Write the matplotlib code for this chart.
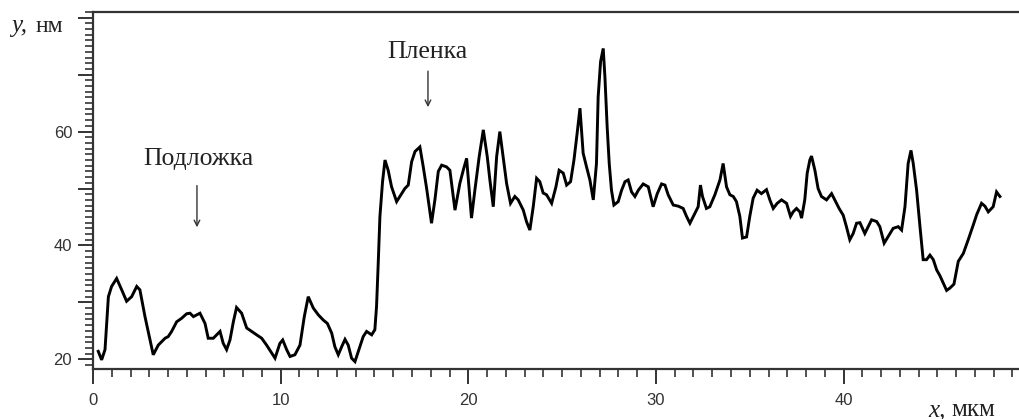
import matplotlib.pyplot as plt
from matplotlib.ticker import MultipleLocator

# профиль поверхности: x, мкм / y, нм
x = [0.28, 0.46, 0.64, 0.82, 0.99, 1.26, 1.53, 1.79, 2.06, 2.33, 2.50, 2.77, 3.04, 3.21, 3.48,
     3.66, 3.84, 4.01, 4.19, 4.46, 4.72, 4.99, 5.17, 5.35, 5.52, 5.70, 5.97, 6.14, 6.41, 6.59,
     6.77, 6.94, 7.12, 7.30, 7.48, 7.65, 7.92, 8.19, 8.45, 8.72, 8.99, 9.25, 9.52, 9.70, 9.96,
     10.11, 10.32, 10.50, 10.76, 11.03, 11.26, 11.47, 11.74, 12.01, 12.27, 12.49, 12.72, 12.89,
     13.07, 13.25, 13.43, 13.60, 13.78, 13.96, 14.14, 14.40, 14.58, 14.85, 15.02, 15.11, 15.20,
     15.29, 15.43, 15.56, 15.73, 15.91, 16.18, 16.45, 16.62, 16.80, 16.98, 17.16, 17.42, 17.60,
     17.78, 18.04, 18.22, 18.40, 18.58, 18.84, 19.02, 19.29, 19.55, 19.73, 19.91, 20.17, 20.35,
     20.58, 20.80, 21.01, 21.15, 21.33, 21.51, 21.68, 21.90, 22.04, 22.25, 22.48, 22.66, 22.93,
     23.10, 23.28, 23.46, 23.64, 23.81, 23.99, 24.17, 24.44, 24.67, 24.84, 25.06, 25.24, 25.45,
     25.63, 25.80, 25.95, 26.12, 26.30, 26.48, 26.66, 26.83, 26.92, 27.05, 27.19, 27.28, 27.40,
     27.51, 27.63, 27.76, 27.99, 28.17, 28.35, 28.52, 28.70, 28.88, 29.06, 29.32, 29.59, 29.85,
     30.07, 30.30, 30.48, 30.65, 30.92, 31.19, 31.45, 31.63, 31.81, 32.02, 32.25, 32.37, 32.48,
     32.69, 32.87, 33.14, 33.41, 33.58, 33.76, 33.94, 34.12, 34.29, 34.47, 34.61, 34.83, 35.00,
     35.18, 35.39, 35.62, 35.89, 36.07, 36.25, 36.46, 36.69, 36.96, 37.17, 37.31, 37.49, 37.67,
     37.76, 37.93, 38.06, 38.20, 38.29, 38.47, 38.64, 38.82, 39.09, 39.36, 39.53, 39.76, 39.98,
     40.15, 40.33, 40.51, 40.69, 40.87, 41.13, 41.31, 41.49, 41.76, 41.93, 42.16, 42.38, 42.64,
     42.91, 43.09, 43.27, 43.44, 43.59, 43.71, 43.89, 44.07, 44.24, 44.42, 44.60, 44.78, 44.96,
     45.13, 45.31, 45.49, 45.66, 45.88, 46.11, 46.38, 46.64, 46.91, 47.09, 47.35, 47.53, 47.71,
     47.97, 48.15, 48.33]
y = [21.4, 19.9, 21.7, 31.0, 32.8, 34.2, 32.2, 30.2, 31.0, 32.8, 32.2, 27.5, 23.4, 20.8, 22.5,
     23.1, 23.7, 24.0, 24.9, 26.6, 27.2, 28.0, 28.1, 27.5, 27.8, 28.1, 26.3, 23.7, 23.7, 24.3,
     24.9, 22.8, 21.7, 23.4, 26.6, 29.1, 28.1, 25.5, 24.9, 24.3, 23.7, 22.5, 21.1, 20.2, 22.8,
     23.4, 21.7, 20.5, 20.8, 22.5, 27.5, 31.0, 29.0, 27.8, 26.9, 26.3, 24.6, 22.2,
     20.8, 22.2, 23.5, 22.5, 20.2, 19.6, 21.4, 24.0, 24.9, 24.3, 25.2, 29.3, 36.9,
     45.1, 51.2, 55.0, 53.2, 50.3, 47.7, 49.1, 50.0, 50.6, 54.7, 56.5, 57.3, 53.8,
     50.0, 43.9, 48.0, 53.0, 54.1, 53.8, 53.2, 46.2, 50.9, 53.2, 55.3, 44.8, 49.7,
     55.6, 60.3, 55.6, 51.5, 46.8, 55.6, 60.0, 54.4, 50.9, 47.4, 48.6, 48.0, 46.2,
     44.2, 42.7, 46.8, 51.8, 51.2, 49.2, 48.9, 47.4, 50.3, 53.2, 52.7, 50.6, 51.2,
     55.0, 59.7, 64.1, 56.2, 53.8, 51.5, 48.0, 54.4, 66.1, 72.3, 74.6, 69.6, 60.8,
     54.4, 49.7, 47.1, 47.7, 49.7, 51.2, 51.5, 49.4, 48.6, 49.7, 50.8, 50.3, 46.8,
     49.1, 50.8, 50.6, 48.9, 47.1, 46.9, 46.5, 45.1, 43.9, 45.3, 46.8, 50.6, 48.6,
     46.5, 46.8, 48.9, 51.5, 54.4, 50.3, 48.9, 48.6, 47.7, 45.1, 41.3, 41.5, 45.1,
     48.3, 49.7, 49.1, 49.8, 48.0, 46.5, 47.4, 48.0, 47.4, 45.1, 45.9, 46.5, 45.9,
     44.8, 48.0, 52.7, 55.0, 55.7, 53.2, 50.0, 48.6, 48.0, 49.1, 48.0, 46.5, 45.3,
     43.3, 41.0, 42.1, 43.9, 44.0, 42.1, 43.3, 44.5, 44.2, 43.3, 40.4, 41.6, 43.0,
     43.3, 42.7, 46.8, 54.4, 56.7, 54.4, 49.7, 43.3, 37.5, 37.5, 38.3, 37.5, 35.7,
     34.7, 33.4, 32.1, 32.5, 33.2, 37.2, 38.6, 41.0, 43.6, 45.4, 47.4, 46.9, 45.9,
     46.8, 49.4, 48.6]

y_label_pos = [20, 40, 60]

serif = ["Liberation Serif", "DejaVu Serif"]
plt.rcParams["font.family"] = ["Liberation Sans", "DejaVu Sans"]

fig = plt.figure(figsize=(10.2, 4.19), dpi=100)
ax = fig.add_axes([93 / 1020, 50 / 419, 927 / 1020, 357 / 419])

ax.plot(x, y, c="black", lw=2.1, solid_joinstyle="miter")

ax.set_xlim(0, 49.4)
ax.set_ylim(18.3, 81.0)

# оси
for s in ["left", "bottom", "top"]:
    ax.spines[s].set_linewidth(1.6)
    ax.spines[s].set_color("#333333")
ax.spines["right"].set_visible(False)

ax.xaxis.set_major_locator(MultipleLocator(10))
ax.xaxis.set_minor_locator(MultipleLocator(1))
ax.yaxis.set_major_locator(MultipleLocator(10))
ax.yaxis.set_minor_locator(MultipleLocator(1))
ax.yaxis.set_major_formatter(lambda v, p: str(int(round(v))) if int(round(v)) in y_label_pos else "")

ax.tick_params(which="major", direction="out", length=11, width=1.4, color="#333333",
               labelsize=12, labelcolor="#333333")
ax.tick_params(which="minor", direction="out", length=6, width=1.2, color="#333333")
ax.tick_params(axis="x", which="major", pad=6)
ax.tick_params(axis="y", which="major", pad=4)

# подписи осей
fig.text(11 / 1020, 1 - 32 / 419, "y,", family=serif, style="italic", fontsize=18, color="#222222")
fig.text(36 / 1020, 1 - 32 / 419, "нм", family=serif, fontsize=17, color="#222222")
fig.text(928 / 1020, 1 - 416 / 419, "x,", family=serif, style="italic", fontsize=18, color="#222222")
fig.text(951 / 1020, 1 - 416 / 419, "мкм", family=serif, fontsize=18, color="#222222")

# надписи со стрелками
ax.text(5.6, 54.1, "Подложка", family=serif, fontsize=18.5, ha="center", va="baseline", color="#222222")
ax.annotate("", xy=(5.54, 42.7), xytext=(5.54, 51.0),
            arrowprops=dict(arrowstyle="->", color="#333333", lw=1.0))
ax.text(17.8, 72.9, "Пленка", family=serif, fontsize=18.5, ha="center", va="baseline", color="#222222")
ax.annotate("", xy=(17.85, 63.8), xytext=(17.85, 71.1),
            arrowprops=dict(arrowstyle="->", color="#333333", lw=1.0))

plt.savefig("out.png", dpi=100)
